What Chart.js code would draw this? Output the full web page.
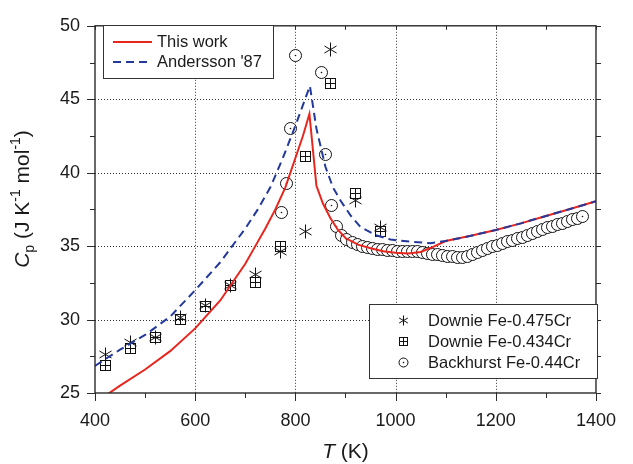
<!DOCTYPE html>
<html>
<head>
<meta charset="utf-8">
<script src="https://cdn.jsdelivr.net/npm/chart.js@4.4.1/dist/chart.umd.min.js"></script>
<style>
  html, body { margin: 0; padding: 0; background: #fff; }
  #wrap { width: 633px; height: 464px; }
</style>
</head>
<body>
<div id="wrap"><canvas id="cp-chart" width="633" height="464"></canvas></div>
<script>
// "This work" model curve
const workT  = [420, 450, 500, 550, 600, 650, 700, 720, 740, 760, 780, 800, 815, 828, 842, 855, 870, 885, 900, 925, 950, 975, 1000, 1025, 1050, 1075, 1100, 1150, 1200, 1250, 1300, 1350, 1400];
const workCp = [24.8, 25.5, 26.6, 27.85, 29.4, 31.3, 33.8, 35.0, 36.2, 37.5, 39.0, 41.0, 42.5, 44.0, 39.1, 37.9, 36.9, 36.1, 35.55, 35.1, 34.85, 34.65, 34.55, 34.5, 34.6, 34.95, 35.35, 35.7, 36.1, 36.55, 37.05, 37.55, 38.05];

// Andersson '87 assessment
const andT  = [400, 450, 500, 550, 600, 650, 700, 725, 750, 775, 800, 815, 829, 842, 860, 875, 890, 910, 930, 960, 990, 1030, 1070, 1100, 1150, 1200, 1250, 1300, 1350, 1400];
const andCp = [26.85, 27.95, 28.95, 30.2, 32.0, 33.9, 36.2, 37.5, 39.0, 41.0, 43.2, 44.6, 45.9, 43.0, 40.4, 39.0, 38.1, 37.1, 36.3, 35.75, 35.45, 35.3, 35.2, 35.35, 35.7, 36.1, 36.55, 37.05, 37.55, 38.05];

// Downie Fe-0.475Cr
const d475T  = [420, 470, 520, 570, 620, 670, 720, 770, 820, 870, 920, 970];
const d475Cp = [27.6, 28.45, 28.8, 30.15, 30.95, 32.3, 33.1, 34.65, 36.0, 48.4, 38.1, 36.3];

// Downie Fe-0.434Cr
const d434T  = [420, 470, 520, 570, 620, 670, 720, 770, 820, 870, 920, 970];
const d434Cp = [26.9, 28.0, 28.8, 30.0, 30.9, 32.3, 32.5, 35.0, 41.1, 46.1, 38.6, 36.0];

// Backhurst Fe-0.44Cr
const backT  = [772, 782, 791, 801, 852, 861, 873, 883,
  893, 903, 913, 923, 933, 943, 953, 963, 973, 983,
  993, 1003, 1013, 1023, 1033, 1043, 1053, 1063, 1073, 1083,
  1093, 1103, 1113, 1123, 1133, 1143, 1153, 1163, 1173, 1183,
  1193, 1203, 1213, 1223, 1233, 1243, 1253, 1263, 1273, 1283,
  1293, 1303, 1313, 1323, 1333, 1343, 1353, 1363, 1373];
const backCp = [37.3, 39.25, 43.0, 48.0, 46.8, 41.25, 37.75, 36.35,
  35.75, 35.45, 35.25, 35.1, 35.0, 34.9, 34.85, 34.8, 34.75, 34.7,
  34.7, 34.65, 34.65, 34.6, 34.6, 34.6, 34.55, 34.5, 34.45, 34.4,
  34.35, 34.3, 34.3, 34.25, 34.25, 34.3, 34.4, 34.55, 34.7, 34.85,
  34.95, 35.05, 35.15, 35.3, 35.4, 35.5, 35.6, 35.75, 35.85, 36.0,
  36.1, 36.25, 36.35, 36.45, 36.55, 36.7, 36.8, 36.9, 37.0];

const xLabels = [400, 600, 800, 1000, 1200, 1400];
const yLabels = [25, 30, 35, 40, 45, 50];

const FONT = '"Liberation Sans", Arial, Helvetica, sans-serif';
const INK = '#1a1a1a';
const RED = '#e8261e';
const BLUE = '#23399b';

function pts(xs, ys) {
    return xs.map((x, i) => ({x: x, y: ys[i]}));
}

function drawMarker(g, kind, x, y, r) {
    g.save();
    g.strokeStyle = '#111';
    g.lineWidth = 1;
    if (kind === 'circle') {
        g.beginPath();
        g.arc(x, y, r, 0, Math.PI * 2);
        g.fillStyle = '#fff';
        g.fill();
        g.stroke();
        g.beginPath();
        g.arc(x, y, 0.8, 0, Math.PI * 2);
        g.fillStyle = '#111';
        g.fill();
    } else if (kind === 'square') {
        g.strokeRect(x - r, y - r, 2 * r, 2 * r);
        g.beginPath();
        g.moveTo(x, y - r); g.lineTo(x, y + r);
        g.moveTo(x - r, y); g.lineTo(x + r, y);
        g.stroke();
    } else {
        // six-spoke asterisk
        g.beginPath();
        for (let k = 0; k < 3; k++) {
            const a = Math.PI / 2 + k * Math.PI / 3;
            g.moveTo(x + r * Math.cos(a), y + r * Math.sin(a));
            g.lineTo(x - r * Math.cos(a), y - r * Math.sin(a));
        }
        g.stroke();
    }
    g.restore();
}

function makeMarker(kind, r) {
    const s = 2 * Math.ceil(r) + 3;
    const cv = document.createElement('canvas');
    cv.width = s;
    cv.height = s;
    drawMarker(cv.getContext('2d'), kind, s / 2, s / 2, r);
    return cv;
}

function isMajorX(v) { return v % 200 === 0; }
function isMajorY(v) { return v % 5 === 0; }

const decor = {
    id: 'decor',
    beforeDraw(chart) {
        const c = chart.ctx;
        const a = chart.chartArea;
        const xs = chart.scales.x, ys = chart.scales.y;
        c.save();
        c.fillStyle = '#fff';
        c.fillRect(0, 0, chart.width, chart.height);
        // dotted grid
        c.strokeStyle = '#333';
        c.lineWidth = 1;
        c.setLineDash([1, 2]);
        c.beginPath();
        xLabels.slice(1, -1).forEach(v => {
            const px = Math.round(xs.getPixelForValue(v)) + 0.5;
            c.moveTo(px, a.top); c.lineTo(px, a.bottom);
        });
        yLabels.slice(1, -1).forEach(v => {
            const py = Math.round(ys.getPixelForValue(v)) + 0.5;
            c.moveTo(a.left, py); c.lineTo(a.right, py);
        });
        c.stroke();
        c.restore();
    },
    beforeDatasetDraw(chart, args) {
        // snap image markers to whole pixels so they stay crisp
        const meta = args.meta;
        if (meta.dataset && chart.data.datasets[args.index].showLine) return;
        meta.data.forEach(el => {
            el.x = Math.floor(el.x) + 0.5;
            el.y = Math.floor(el.y) + 0.5;
        });
    },
    afterDraw(chart) {
        const c = chart.ctx;
        const a = chart.chartArea;
        const xs = chart.scales.x, ys = chart.scales.y;
        c.save();

        // frame
        c.strokeStyle = '#2a2a2a';
        c.lineWidth = 1.4;
        c.strokeRect(a.left, a.top, a.right - a.left, a.bottom - a.top);

        // ticks
        c.lineWidth = 1;
        c.beginPath();
        for (let v = 400; v <= 1400; v += 100) {
            const px = Math.round(xs.getPixelForValue(v)) + 0.5;
            const len = isMajorX(v) ? 8 : 5;
            c.moveTo(px, a.bottom); c.lineTo(px, a.bottom + len);
            c.moveTo(px, a.top); c.lineTo(px, a.top + 4);
        }
        for (let v = 25; v <= 50; v += 2.5) {
            const py = Math.round(ys.getPixelForValue(v)) + 0.5;
            const len = isMajorY(v) ? 8 : 5;
            c.moveTo(a.left, py); c.lineTo(a.left - len, py);
            c.moveTo(a.right, py); c.lineTo(a.right + 5, py);
        }
        c.stroke();

        // legend: lines
        c.fillStyle = '#fff';
        c.fillRect(103.5, 25.5, 170, 53);
        c.strokeStyle = '#333';
        c.strokeRect(103.5, 25.5, 170, 53);
        c.lineWidth = 2;
        c.strokeStyle = RED;
        c.beginPath(); c.moveTo(113, 42); c.lineTo(152, 42); c.stroke();
        c.strokeStyle = BLUE;
        c.setLineDash([8, 5]);
        c.beginPath(); c.moveTo(113, 62); c.lineTo(152, 62); c.stroke();
        c.setLineDash([]);
        c.fillStyle = INK;
        c.font = '16.5px ' + FONT;
        c.textBaseline = 'middle';
        c.textAlign = 'left';
        c.fillText('This work', 157, 42);
        c.fillText("Andersson '87", 157, 62);

        // legend: symbols
        c.lineWidth = 1;
        c.fillStyle = '#fff';
        c.fillRect(369.5, 304.5, 228, 74);
        c.strokeStyle = '#333';
        c.strokeRect(369.5, 304.5, 228, 74);
        drawMarker(c, 'asterisk', 403.5, 320.5, 5);
        drawMarker(c, 'square', 403.5, 341.5, 4);
        drawMarker(c, 'circle', 403.5, 362.5, 4.5);
        c.fillStyle = INK;
        c.fillText('Downie Fe-0.475Cr', 428, 321);
        c.fillText('Downie Fe-0.434Cr', 428, 342);
        c.fillText('Backhurst Fe-0.44Cr', 428, 363);

        // x title: T (K)
        c.textBaseline = 'alphabetic';
        const big = '21px ' + FONT, bigI = 'italic 21px ' + FONT;
        c.font = bigI; const wT = c.measureText('T').width;
        c.font = big; const wK = c.measureText(' (K)').width;
        let x0 = (a.left + a.right) / 2 - (wT + wK) / 2;
        c.font = bigI; c.fillText('T', x0, 458);
        c.font = big; c.fillText(' (K)', x0 + wT, 458);

        // y title: Cp (J K-1 mol-1)
        const small = '14px ' + FONT;
        const parts = [
            {t: 'C', f: bigI, dy: 0},
            {t: 'p', f: small, dy: 5},
            {t: ' (J K', f: big, dy: 0},
            {t: '-1', f: small, dy: -9},
            {t: ' mol', f: big, dy: 0},
            {t: '-1', f: small, dy: -9},
            {t: ')', f: big, dy: 0}
        ];
        let total = 0;
        parts.forEach(p => { c.font = p.f; p.w = c.measureText(p.t).width; total += p.w; });
        c.translate(29, 199);
        c.rotate(-Math.PI / 2);
        let cx = -total / 2;
        parts.forEach(p => { c.font = p.f; c.fillText(p.t, cx, p.dy); cx += p.w; });

        c.restore();
    }
};

const ctx = document.getElementById('cp-chart').getContext('2d');
new Chart(ctx, {
    type: 'scatter',
    data: {
        datasets: [
            {
                label: 'This work',
                data: pts(workT, workCp),
                showLine: true,
                borderColor: RED,
                borderWidth: 2,
                pointRadius: 0,
                tension: 0,
                order: 2
            },
            {
                label: "Andersson '87",
                data: pts(andT, andCp),
                showLine: true,
                borderColor: BLUE,
                borderWidth: 2,
                borderDash: [8, 5],
                pointRadius: 0,
                tension: 0,
                order: 1
            },
            {
                label: 'Backhurst Fe-0.44Cr',
                data: pts(backT, backCp),
                pointStyle: makeMarker('circle', 6),
                pointRadius: 6,
                order: 5
            },
            {
                label: 'Downie Fe-0.434Cr',
                data: pts(d434T, d434Cp),
                pointStyle: makeMarker('square', 5),
                pointRadius: 6,
                order: 4
            },
            {
                label: 'Downie Fe-0.475Cr',
                data: pts(d475T, d475Cp),
                pointStyle: makeMarker('asterisk', 7),
                pointRadius: 6,
                order: 3
            }
        ]
    },
    options: {
        responsive: false,
        animation: false,
        devicePixelRatio: 1,
        layout: { padding: { left: 0, top: 14, right: 22, bottom: 0 } },
        plugins: {
            legend: { display: false },
            tooltip: { enabled: false }
        },
        scales: {
            x: {
                type: 'linear',
                min: 400,
                max: 1400,
                afterFit(scale) { scale.height = 71; },
                ticks: {
                    stepSize: 100,
                    autoSkip: false,
                    maxRotation: 0,
                    padding: 17,
                    color: INK,
                    font: { family: FONT, size: 18 },
                    callback: v => xLabels.includes(v) ? String(v) : ''
                },
                grid: { display: false, drawTicks: false },
                border: { display: false }
            },
            y: {
                type: 'linear',
                min: 25,
                max: 50,
                afterFit(scale) { scale.width = 95; },
                ticks: {
                    stepSize: 2.5,
                    autoSkip: false,
                    padding: 15,
                    color: INK,
                    font: { family: FONT, size: 18 },
                    callback: v => yLabels.includes(v) ? String(v) : ''
                },
                grid: { display: false, drawTicks: false },
                border: { display: false }
            }
        }
    },
    plugins: [decor]
});
</script>
</body>
</html>
